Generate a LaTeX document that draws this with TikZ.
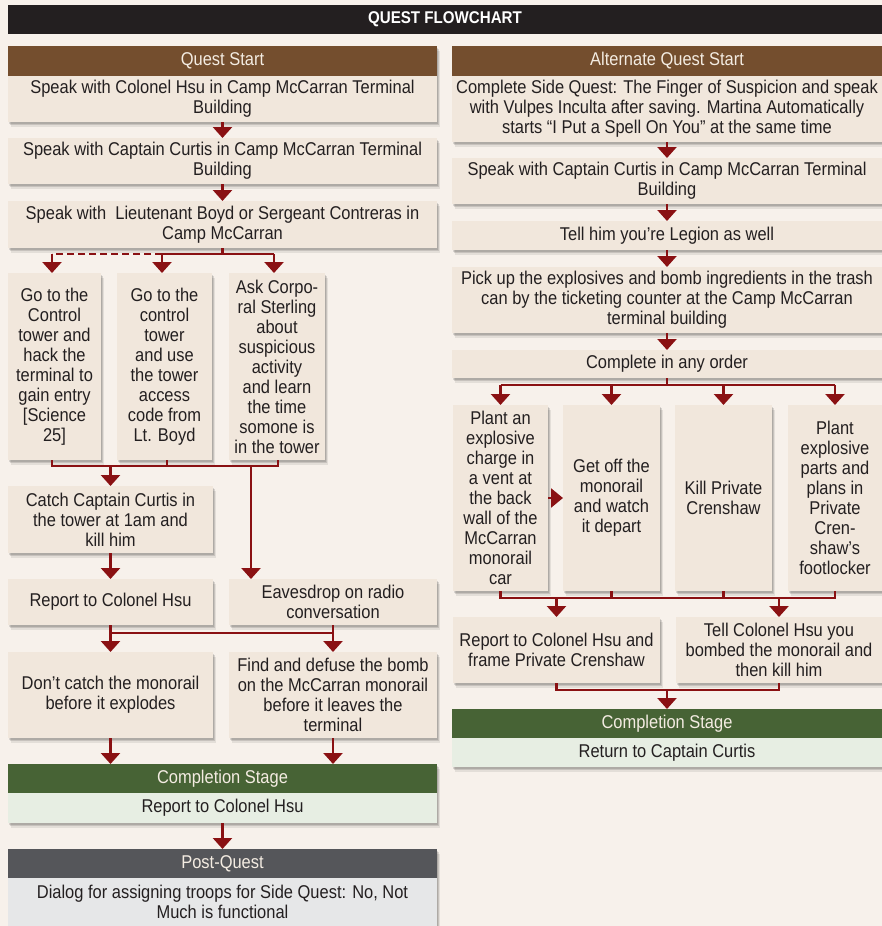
\documentclass[tikz,border=0pt]{standalone}
\usepackage{fontspec}
\setmainfont[FakeStretch=0.89]{Liberation Sans}
\usetikzlibrary{arrows.meta,shadows}
\definecolor{pagebg}{HTML}{F7F1EB}
\definecolor{boxc}{HTML}{F1E7DC}
\definecolor{brownc}{HTML}{744E2E}
\definecolor{greenc}{HTML}{476335}
\definecolor{lgreenc}{HTML}{E7EEE3}
\definecolor{grayc}{HTML}{55565A}
\definecolor{lgrayc}{HTML}{E6E7E8}
\definecolor{redc}{HTML}{8A1113}
\definecolor{textc}{HTML}{231F20}
\definecolor{hdrtext}{HTML}{F4ECE2}
\newcommand\mkbox[7][box]{\node[#1, minimum width={(#5-#3)*1pt}, minimum height={(#6-#4)*1pt}] (#2) at ({(#3+#5)/2},{(#4+#6)/2}) {#7};}
\tikzset{
  base/.style={inner sep=0pt, outer sep=0pt, align=center, font=\fontsize{18.5}{20}\selectfont},
  shad/.style={
    drop shadow={shadow xshift=1pt, shadow yshift=-1.5pt, opacity=0.12, fill=black},
    drop shadow={shadow xshift=2pt, shadow yshift=-3pt, opacity=0.12, fill=black},
    drop shadow={shadow xshift=3pt, shadow yshift=-4.5pt, opacity=0.08, fill=black}},
  box/.style={base, shad, fill=boxc, text=textc},
  hdr/.style={base, shad, fill=brownc, text=hdrtext},
  hdrg/.style={base, shad, fill=greenc, text=hdrtext},
  hdrk/.style={base, shad, fill=grayc, text=hdrtext},
  lgbox/.style={base, shad, fill=lgreenc, text=textc},
  lkbox/.style={base, shad, fill=lgrayc, text=textc},
  titlebar/.style={base, fill=textc, text=white, font=\fontsize{17}{19}\selectfont\bfseries},
  line/.style={draw=redc, line width=2.5pt},
  arr/.style={line, -{Triangle[width=19pt,length=11pt]}},
  sidearr/.style={line, -{Triangle[width=19pt,length=12pt]}},
}
\begin{document}
\begin{tikzpicture}[x=1pt,y=-1pt]
\fill[pagebg] (0,0) rectangle (882,926);
\useasboundingbox (0,0) rectangle (882,926);

\mkbox[titlebar]{title}{8}{5}{882}{34}{QUEST FLOWCHART}

% Left column
\mkbox[hdr]{h1}{8}{46}{437}{76}{Quest Start}
\mkbox{b1}{8}{76}{437}{122}{Speak with Colonel Hsu in Camp McCarran Terminal\\Building}
\mkbox{b2}{8}{138}{437}{184}{Speak with Captain Curtis in Camp McCarran Terminal\\Building}
\mkbox{b3}{8}{201}{437}{248}{Speak with\ \ Lieutenant Boyd or Sergeant Contreras in\\Camp McCarran}
\mkbox{g1}{8}{273}{101}{460}{Go to the\\Control\\tower and\\hack the\\terminal to\\gain entry\\{}[Science\\25]}
\mkbox{g2}{117}{273}{212}{460}{Go to the\\control\\tower\\and use\\the tower\\access\\code from\\Lt. Boyd}
\mkbox{g3}{229}{273}{325}{460}{Ask Corpo-\\ral Sterling\\about\\suspicious\\activity\\and learn\\the time\\somone is\\in the tower}
\mkbox{c1}{8}{486}{213}{553}{Catch Captain Curtis in\\the tower at 1am and\\kill him}
\mkbox{r1}{8}{579}{213}{625}{Report to Colonel Hsu}
\mkbox{e1}{229}{579}{437}{625}{Eavesdrop on radio\\conversation}
\mkbox{d1}{8}{652}{213}{738}{Don’t catch the monorail\\before it explodes}
\mkbox{f1}{229}{652}{437}{738}{Find and defuse the bomb\\on the McCarran monorail\\before it leaves the\\terminal}
\mkbox[hdrg]{h2}{8}{764}{437}{793}{Completion Stage}
\mkbox[lgbox]{cs1}{8}{793}{437}{823}{Report to Colonel Hsu}
\mkbox[hdrk]{h3}{8}{849}{437}{878}{Post-Quest}
\mkbox[lkbox]{pq}{8}{878}{437}{926}{Dialog for assigning troops for Side Quest: No, Not\\Much is functional}

% Right column
\mkbox[hdr]{h4}{452}{46}{882}{76}{Alternate Quest Start}
\mkbox{a1}{452}{76}{882}{142}{Complete Side Quest: The Finger of Suspicion and speak\\with Vulpes Inculta after saving. Martina Automatically\\starts “I Put a Spell On You” at the same time}
\mkbox{a2}{452}{158}{882}{204}{Speak with Captain Curtis in Camp McCarran Terminal\\Building}
\mkbox{a3}{452}{221}{882}{250}{Tell him you’re Legion as well}
\mkbox{a4}{452}{267}{882}{333}{Pick up the explosives and bomb ingredients in the trash\\can by the ticketing counter at the Camp McCarran\\terminal building}
\mkbox{a5}{452}{350}{882}{378}{Complete in any order}
\mkbox{p1}{453}{405}{548}{591}{Plant an\\explosive\\charge in\\a vent at\\the back\\wall of the\\McCarran\\monorail\\car}
\mkbox{p2}{563}{405}{660}{591}{Get off the\\monorail\\and watch\\it depart}
\mkbox{p3}{675}{405}{772}{591}{Kill Private\\Crenshaw}
\mkbox{p4}{788}{405}{882}{591}{Plant\\explosive\\parts and\\plans in\\Private\\Cren-\\shaw’s\\footlocker}
\mkbox{q1}{453}{617}{660}{683}{Report to Colonel Hsu and\\frame Private Crenshaw}
\mkbox{q2}{676}{617}{882}{683}{Tell Colonel Hsu you\\bombed the monorail and\\then kill him}
\mkbox[hdrg]{h5}{452}{709}{882}{738}{Completion Stage}
\mkbox[lgbox]{cs2}{452}{738}{882}{767}{Return to Captain Curtis}

% Bus coordinates
\coordinate (busA) at (0,254);
\coordinate (busB) at (0,466);
\coordinate (busC) at (0,633);
\coordinate (busD) at (0,385);
\coordinate (busE) at (0,598);
\coordinate (busF) at (0,690);
\coordinate (eTop) at (251,579);
\coordinate (g1n) at (52,273);
\coordinate (g2n) at (162,273);
\coordinate (g3n) at (274,273);
\coordinate (g1s) at (52,460);
\coordinate (g2s) at (167,460);
\coordinate (g3s) at (278,460);

% Left connectors
\draw[arr] (b1.south) -- (b2.north);
\draw[arr] (b2.south) -- (b3.north);
\draw[line] (b3.south) -- (b3.south |- busA);
\draw[line, dash pattern=on 7pt off 4pt] (g2n |- busA) -- (g1n |- busA);
\draw[line] (g2n |- busA) -- (g3n |- busA);
\draw[arr] (g1n |- busA) -- (g1n);
\draw[arr] (g2n |- busA) -- (g2n);
\draw[arr] (g3n |- busA) -- (g3n);
\draw[line] (g1s) -- (g1s |- busB) -- (g3s |- busB) -- (g3s);
\draw[line] (g2s) -- (g2s |- busB);
\draw[arr] (c1.north |- busB) -- (c1.north);
\draw[arr] (eTop |- busB) -- (eTop);
\draw[arr] (c1.south) -- (r1.north);
\draw[line] (r1.south) -- (r1.south |- busC) -- (f1.north |- busC) -- (e1.south);
\draw[arr] (r1.south |- busC) -- (d1.north);
\draw[arr] (f1.north |- busC) -- (f1.north);
\draw[arr] (d1.south) -- (d1.south |- h2.north);
\draw[arr] (f1.south) -- (f1.south |- h2.north);
\draw[arr] (cs1.south) -- (h3.north);

% Right connectors
\draw[arr] (a1.south) -- (a2.north);
\draw[arr] (a2.south) -- (a3.north);
\draw[arr] (a3.south) -- (a4.north);
\draw[arr] (a4.south) -- (a5.north);
\draw[line] (a5.south) -- (a5.south |- busD);
\draw[line] (p1.north |- busD) -- (p4.north |- busD);
\draw[arr] (p1.north |- busD) -- (p1.north);
\draw[arr] (p2.north |- busD) -- (p2.north);
\draw[arr] (p3.north |- busD) -- (p3.north);
\draw[arr] (p4.north |- busD) -- (p4.north);
\draw[sidearr] (p1.east) -- (p2.west);
\draw[line] (p1.south) -- (p1.south |- busE) -- (p4.south |- busE) -- (p4.south);
\draw[line] (p2.south) -- (p2.south |- busE);
\draw[line] (p3.south) -- (p3.south |- busE);
\draw[arr] (q1.north |- busE) -- (q1.north);
\draw[arr] (q2.north |- busE) -- (q2.north);
\draw[line] (q1.south) -- (q1.south |- busF) -- (q2.south |- busF) -- (q2.south);
\draw[arr] (h5.north |- busF) -- (h5.north);
\end{tikzpicture}
\end{document}
